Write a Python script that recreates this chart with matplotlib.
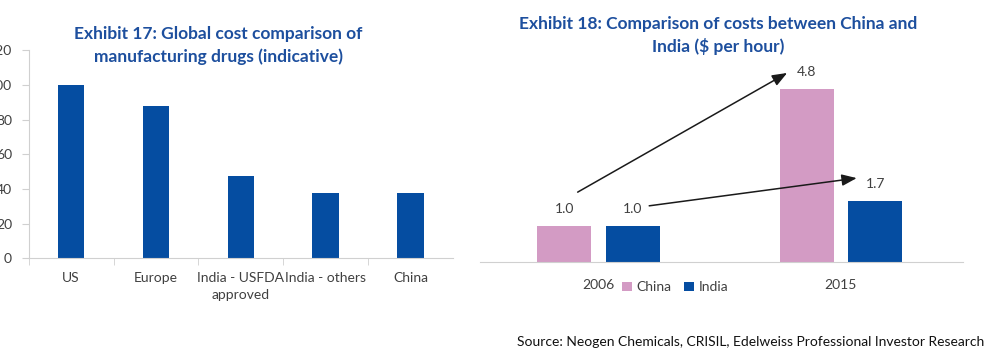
import matplotlib
matplotlib.use("Agg")
import matplotlib.pyplot as plt
import numpy as np

plt.rcParams['font.family'] = ['Lato', 'DejaVu Sans']

# ---- data ----
left_categories = ["US", "Europe", "India - USFDA\napproved", "India - others", "China"]
left_values = [100, 87.5, 47.5, 37.5, 37.5]
left_yticks = [0, 20, 40, 60, 80, 100, 120]

right_years = ["2006", "2015"]
china_vals = [1.0, 4.8]
india_vals = [1.0, 1.7]
series_names = ["China", "India"]

BLUE = "#054DA1"
PINK = "#D39BC4"
TITLE = "#1D4F9E"
TXT = "#404040"
GRID = "#D0D0D0"

fig = plt.figure(figsize=(10.02, 3.55), dpi=100)

# ---- left chart ----
axl = fig.add_axes([0.0286, 0.272, 0.4234, 0.587])
x = np.arange(len(left_categories))
axl.bar(x, left_values, width=0.31, color=BLUE, zorder=2)
axl.set_xlim(-0.5, len(left_categories) - 0.5)
axl.set_ylim(0, 120)
axl.set_yticks(left_yticks)
axl.set_xticks(x)
axl.set_xticklabels(left_categories, fontsize=10, color=TXT, linespacing=1.45)
axl.set_xticks(np.arange(-0.5, len(left_categories) - 1, 1.0), minor=True)
axl.tick_params(axis='x', which='major', length=0, pad=10)
axl.tick_params(axis='x', which='minor', length=5, color=GRID, direction='out')
axl.tick_params(axis='y', length=5, color=GRID, pad=7, labelsize=10, labelcolor=TXT)
for s in ['top', 'right']:
    axl.spines[s].set_visible(False)
for s in ['left', 'bottom']:
    axl.spines[s].set_color(GRID)
axl.set_facecolor('none')
fig.text(0.218, 0.927, "Exhibit 17: Global cost comparison of\nmanufacturing drugs (indicative)",
         ha='center', va='top', fontsize=12.5, fontweight='bold', color=TITLE, linespacing=1.5)

# ---- right chart ----
axr = fig.add_axes([0.479, 0.262, 0.482, 0.569])
xr = np.arange(len(right_years))
w = 0.223
off = 0.142
b1 = axr.bar(xr - off, china_vals, width=w, color=PINK, label=series_names[0], zorder=2)
b2 = axr.bar(xr + off, india_vals, width=w, color=BLUE, label=series_names[1], zorder=2)
axr.set_xlim(-0.489, 1.503)
axr.set_ylim(0, 5.61)
axr.set_yticks([])
axr.set_xticks(xr)
axr.set_xticklabels(right_years, fontsize=10, color=TXT)
axr.tick_params(axis='x', length=0, pad=12)
for s in ['top', 'right', 'left']:
    axr.spines[s].set_visible(False)
axr.spines['bottom'].set_color(GRID)
axr.set_facecolor('none')

for bars, vals in ((b1, china_vals), (b2, india_vals)):
    for rect, v in zip(bars, vals):
        axr.annotate(f"{v:.1f}", (rect.get_x() + rect.get_width() / 2, v),
                     xytext=(0, 12), textcoords='offset points', ha='center', va='center',
                     fontsize=10, color=TXT)

# arrows showing growth from 2006 to 2015
arrowprops = dict(arrowstyle='-|>,head_length=0.9,head_width=0.35', color='#1A1A1A', lw=1.1,
                  shrinkA=0, shrinkB=0)
axr.annotate("", xy=(xr[1] - off - 0.08, china_vals[1] + 0.45),
             xytext=(xr[0] - off + 0.056, china_vals[0] + 0.94),
             arrowprops=arrowprops, annotation_clip=False)
axr.annotate("", xy=(xr[1] + off - 0.077, india_vals[1] + 0.63),
             xytext=(xr[0] + off + 0.067, india_vals[0] + 0.56),
             arrowprops=arrowprops, annotation_clip=False)

leg = axr.legend(loc='center', bbox_to_anchor=(0.404, -0.125), ncol=2, frameon=False,
                 fontsize=10, handlelength=0.7, handleheight=0.7, handletextpad=0.35,
                 columnspacing=0.9, labelcolor=TXT)

fig.text(0.717, 0.955, "Exhibit 18: Comparison of costs between China and\nIndia ($ per hour)",
         ha='center', va='top', fontsize=12.5, fontweight='bold', color=TITLE, linespacing=1.45)

fig.text(0.982, 0.037, "Source: Neogen Chemicals, CRISIL, Edelweiss Professional Investor Research",
         ha='right', va='center', fontsize=10, color='#111111')

fig.savefig("out.png", dpi=100)
